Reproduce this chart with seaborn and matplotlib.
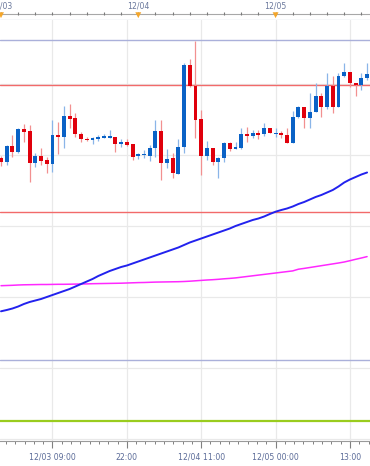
import numpy as np
import matplotlib
matplotlib.use('Agg')
import matplotlib.pyplot as plt
import seaborn as sns
from matplotlib.ticker import MultipleLocator, FixedLocator, NullFormatter

sns.set_theme(style='white')
plt.rcParams['font.family'] = ['DejaVu Sans']

# hourly OHLC (price in pips)
opens = [342.3, 338.3, 354.0, 348.3, 371.0, 369.0, 337.3, 344.0, 339.7, 336.0,
         365.0, 363.3, 383.7, 381.7, 365.7, 361.0, 360.0, 361.3, 362.3, 362.3,
         362.7, 355.7, 358.0, 355.7, 344.3, 344.7, 344.3, 351.7, 369.3, 336.7,
         341.7, 326.0, 352.7, 435.0, 414.0, 380.7, 344.0, 352.3, 337.7, 341.7,
         356.7, 351.0, 352.5, 365.7, 364.3, 366.7, 365.7, 372.3, 366.0, 366.7,
         365.0, 356.7, 383.3, 392.7, 382.3, 387.7, 404.3, 393.3, 414.3, 393.3,
         424.3, 428.3, 416.7, 415.0, 422.3]
highs = [344.0, 355.0, 365.0, 372.3, 376.3, 375.0, 347.0, 352.0, 343.3, 380.0,
         378.3, 394.0, 396.0, 387.3, 368.3, 363.3, 363.3, 365.0, 366.0, 370.0,
         363.3, 360.7, 360.7, 355.7, 346.7, 350.0, 355.0, 380.0, 380.0, 350.7,
         346.7, 360.7, 436.7, 440.7, 459.0, 390.0, 359.0, 352.3, 343.3, 357.7,
         357.7, 357.7, 372.3, 372.7, 370.0, 370.0, 377.3, 372.3, 372.0, 369.0,
         371.7, 389.3, 394.0, 392.7, 406.7, 416.7, 407.3, 426.7, 424.0, 426.7,
         436.7, 428.3, 416.7, 426.7, 436.7]
lows = [334.0, 335.0, 343.0, 347.0, 358.3, 318.3, 333.3, 335.0, 326.7, 328.3,
        345.7, 352.3, 372.3, 363.3, 358.3, 359.0, 356.0, 359.0, 361.7, 361.7,
        348.3, 353.3, 354.0, 340.0, 341.0, 341.7, 339.0, 343.3, 320.0, 332.3,
        321.7, 326.0, 346.7, 413.3, 361.7, 325.0, 340.0, 335.0, 322.3, 338.3,
        349.0, 351.0, 351.0, 358.3, 361.7, 360.7, 364.3, 366.7, 362.7, 361.7,
        356.7, 356.7, 381.7, 371.7, 371.7, 387.7, 383.3, 390.7, 387.3, 393.3,
        423.3, 413.3, 404.0, 410.0, 420.0]
closes = [338.3, 354.0, 348.3, 371.0, 368.3, 337.3, 344.0, 339.3, 335.7, 365.0,
          363.3, 383.7, 381.3, 365.7, 360.7, 360.0, 361.7, 363.3, 363.3, 363.0,
          356.0, 358.3, 355.0, 343.3, 345.7, 346.0, 351.7, 369.3, 336.7, 341.0,
          326.7, 352.7, 435.0, 414.3, 380.0, 344.0, 352.3, 337.7, 342.3, 356.7,
          351.0, 353.3, 366.0, 364.3, 366.7, 365.3, 372.3, 366.7, 367.3, 364.7,
          357.3, 383.3, 392.7, 382.3, 388.3, 404.3, 393.3, 414.3, 393.3, 424.3,
          428.3, 416.7, 414.7, 422.3, 426.0]

# moving averages
ma_fast = [188.7, 190.0, 191.5, 193.5, 196.0, 198.0, 199.5, 201.0, 203.0, 205.0,
           207.0, 209.0, 211.0, 213.5, 216.0, 218.5, 221.0, 224.0, 226.5, 229.0,
           231.0, 233.0, 234.5, 236.5, 238.5, 240.5, 242.5, 244.5, 246.5, 248.5,
           250.5, 252.5, 255.0, 257.5, 259.5, 261.5, 263.5, 265.5, 267.5, 269.5,
           271.5, 274.0, 276.0, 278.0, 280.0, 281.5, 283.5, 286.0, 288.3, 290.0,
           291.5, 293.5, 296.0, 298.0, 300.5, 303.0, 305.0, 307.5, 310.0, 313.5,
           317.5, 320.5, 323.0, 325.5, 327.5]
ma_slow = [214.3, 214.5, 214.7, 215.0, 215.2, 215.3, 215.4, 215.5, 215.5, 215.6,
           215.7, 215.7, 215.8, 215.9, 216.0, 216.1, 216.3, 216.4, 216.5, 216.6,
           216.7, 216.8, 217.0, 217.2, 217.4, 217.5, 217.7, 217.9, 218.0, 218.1,
           218.2, 218.3, 218.5, 218.8, 219.2, 219.6, 220.0, 220.3, 220.7, 221.2,
           221.6, 222.1, 222.8, 223.5, 224.2, 224.9, 225.6, 226.3, 227.0, 227.7,
           228.4, 229.1, 230.8, 231.6, 232.5, 233.4, 234.3, 235.2, 236.1, 237.0,
           238.0, 239.3, 240.7, 242.0, 243.4]

red_levels = [415, 288]
band_levels = [460, 140]
green_level = 79
grid_levels = [416, 345, 274, 203, 132, 61]

bottom_tick_pos = [9, 22, 35, 48, 61]
bottom_tick_labels = ['12/03 09:00', '22:00', '12/04 11:00', '12/05 00:00', '13:00']
top_tick_pos = [0, 24, 48]
top_tick_labels = ['12/03', '12/04', '12/05']

W, H = 370, 466
fig = plt.figure(figsize=(W / 100, H / 100), dpi=100)
fig.patch.set_facecolor('white')

ax = fig.add_axes([0, 25 / H, 1, 421 / H])
hdr = fig.add_axes([0, 446 / H, 1, 20 / H], sharex=None)

xlim = (-0.175, 64.51)

# --- main panel
idx = np.arange(len(opens))
o = np.array(opens); c = np.array(closes)
hi = np.array(highs); lo = np.array(lows)
up = c >= o
wick_cols = np.where(up, '#8ab5e8', '#f29090')
body_cols = np.where(up, '#0a62c6', '#e0000c')

ax.set_yticks(grid_levels)
ax.set_xticks(bottom_tick_pos)
ax.set_xticklabels(bottom_tick_labels)
ax.grid(True, color='#e9e9e9', lw=0.9)
ax.set_axisbelow(True)

for lv in band_levels:
    ax.axhline(lv, color='#aab0da', lw=1.0, zorder=1)
for lv in red_levels:
    ax.axhline(lv, color='#f26a6a', lw=1.0, zorder=1)
ax.axhline(green_level, color='#9acc1e', lw=1.6, zorder=1)

sns.lineplot(x=idx, y=ma_slow, ax=ax, color='#ff28ff', lw=1.1, zorder=2)
sns.lineplot(x=idx, y=ma_fast, ax=ax, color='#2222ee', lw=1.4, zorder=2)

ax.vlines(idx, lo, hi, colors=wick_cols, lw=0.9, zorder=3)
bottom = np.minimum(o, c)
height = np.maximum(np.abs(c - o), 1.3)
ax.bar(idx, height, bottom=bottom, width=0.68, color=body_cols, lw=0, zorder=4)

ax.set_xlim(*xlim)
ax.set_ylim(59, 480)
ax.set_xlabel('')
ax.set_ylabel('')
for s in ['left', 'right', 'top']:
    ax.spines[s].set_visible(False)
ax.spines['bottom'].set_color('#9a9a9a')
ax.spines['bottom'].set_linewidth(0.8)
ax.tick_params(axis='y', left=False, labelleft=False)
ax.xaxis.set_minor_locator(MultipleLocator(13 / 8, offset=9))
ax.tick_params(axis='x', which='major', direction='out', length=5, width=0.8,
               color='#808080', labelsize=5.6, labelcolor='#5b6b98', pad=3.5, bottom=True)
ax.tick_params(axis='x', which='minor', direction='out', length=2, width=0.7,
               color='#808080', bottom=True)

# --- header strip
hdr.set_xlim(*xlim)
hdr.set_ylim(20, 0)
hdr.axis('off')
hdr.axhline(13.5, color='#a8a8a8', lw=0.8)
hdr.axhline(19.5, color='#d6dce9', lw=1.0)
hdr.vlines(np.arange(0, 65, 3), 11.8, 15.0, color='#7a7a7a', lw=0.8)
hdr.scatter(top_tick_pos, [15.2] * len(top_tick_pos), marker='v', s=18,
            color='#f4a62a', edgecolors='none', zorder=3)
for p, t in zip(top_tick_pos, top_tick_labels):
    hdr.text(p, 6.2, t, ha='center', va='center', fontsize=5.6, color='#6a789c')

fig.savefig('out.png', dpi=100, facecolor='white')
